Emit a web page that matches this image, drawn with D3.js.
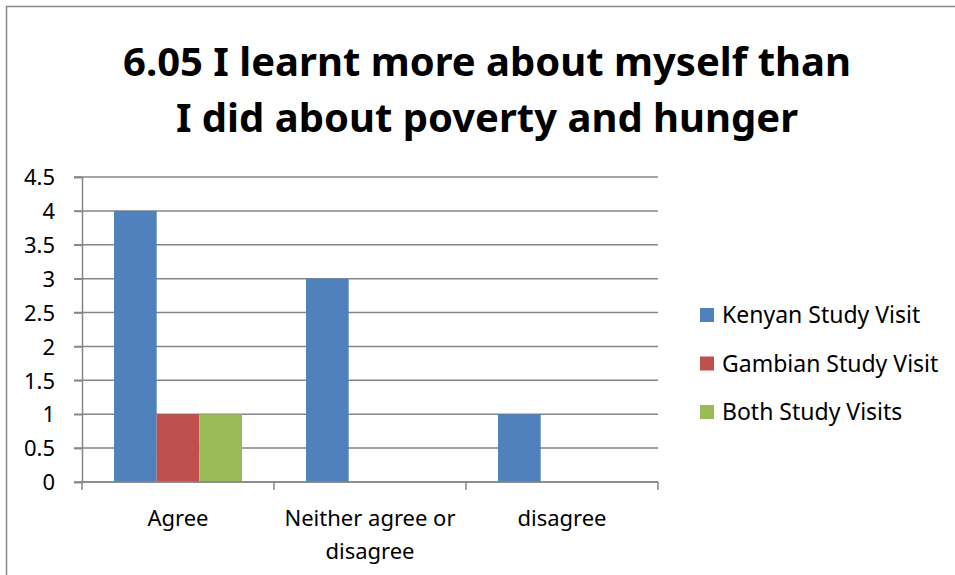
<!DOCTYPE html>
<html><head><meta charset="utf-8">
<script src="https://cdn.jsdelivr.net/npm/d3@7"></script>
<style>body{margin:0;background:#fff}svg{display:block}text{font-family:"Noto Sans","Open Sans",sans-serif;fill:#000}</style>
</head><body><svg id="c" width="955" height="575"></svg>
<script>
const categories = ["Agree", "Neither agree or disagree", "disagree"];
const categoryLines = [["Agree"], ["Neither agree or", "disagree"], ["disagree"]];
const seriesNames = ["Kenyan Study Visit", "Gambian Study Visit", "Both Study Visits"];
const kenyan = [4, 3, 1];
const gambian = [1, 0, 0];
const both = [1, 0, 0];
const yTicks = [0, 0.5, 1, 1.5, 2, 2.5, 3, 3.5, 4, 4.5];
const titleLines = ["6.05 I learnt more about myself than", "I did about poverty and hunger"];
const colors = ["#4F81BD", "#C0504D", "#9BBB59"];

const series = [kenyan, gambian, both];
const svg = d3.select("#c");

// outer border
svg.append("path").attr("d", "M6.5,575 V6.5 H955").attr("fill", "none").attr("stroke", "#888").attr("stroke-width", 1.5);

const L = 82, R = 658, T = 177, B = 482;
const x = d3.scaleBand().domain(categories).range([L, R]).paddingInner(0).paddingOuter(0);
const y = d3.scaleLinear().domain([0, 4.5]).range([B, T]);

// gridlines
const grid = svg.append("g");
yTicks.forEach(t => {
  grid.append("line").attr("x1", L - 8).attr("x2", R).attr("y1", y(t)).attr("y2", y(t))
    .attr("stroke", "#868686").attr("stroke-width", 1.5);
});

// bars
const barW = x.bandwidth() / 4.5;
categories.forEach((c, i) => {
  series.forEach((s, j) => {
    const v = s[i];
    if (v <= 0) return;
    const bx = x(c) + (x.bandwidth() - 3 * barW) / 2 + j * barW;
    svg.append("rect").attr("x", bx).attr("y", y(v)).attr("width", barW).attr("height", y(0) - y(v))
      .attr("fill", colors[j]);
  });
});

// y axis
const yAxis = d3.axisLeft(y).tickValues(yTicks).tickSize(8).tickFormat(d => String(d));
const ya = svg.append("g").attr("transform", `translate(${L},0)`).call(yAxis);
ya.select(".domain").attr("stroke", "#868686").attr("stroke-width", 1.5);
ya.selectAll(".tick line").attr("stroke", "#868686").attr("stroke-width", 1.5);
ya.selectAll(".tick text").attr("font-size", 22).attr("font-family", "'Noto Sans','Open Sans',sans-serif").attr("fill", "#000").attr("x", -27).attr("dy", "0.35em");

// x axis line and ticks
svg.append("line").attr("x1", L).attr("x2", R).attr("y1", B).attr("y2", B).attr("stroke", "#868686").attr("stroke-width", 1.5);
const bounds = categories.map(c => x(c)).concat([R]);
bounds.forEach(bx => {
  svg.append("line").attr("x1", bx).attr("x2", bx).attr("y1", B).attr("y2", B + 8).attr("stroke", "#868686").attr("stroke-width", 1.5);
});
categories.forEach((c, i) => {
  const t = svg.append("text").attr("text-anchor", "middle").attr("font-size", 22)
    .attr("x", x(c) + x.bandwidth() / 2).attr("y", 526);
  categoryLines[i].forEach((ln, k) => {
    t.append("tspan").attr("x", x(c) + x.bandwidth() / 2).attr("dy", k === 0 ? 0 : 33).text(ln);
  });
});

// title
titleLines.forEach((ln, k) => {
  svg.append("text").attr("text-anchor", "middle").attr("font-weight", "bold").attr("font-size", 40)
    .attr("x", 487).attr("y", 76 + k * 56).text(ln);
});

// legend
seriesNames.forEach((n, j) => {
  const cy = 315 + j * 48.5;
  svg.append("rect").attr("x", 700).attr("y", cy - 7).attr("width", 14).attr("height", 14).attr("fill", colors[j]);
  svg.append("text").attr("x", 722).attr("y", cy).attr("dy", "0.35em").attr("font-size", 23).text(n);
});
</script></body></html>
